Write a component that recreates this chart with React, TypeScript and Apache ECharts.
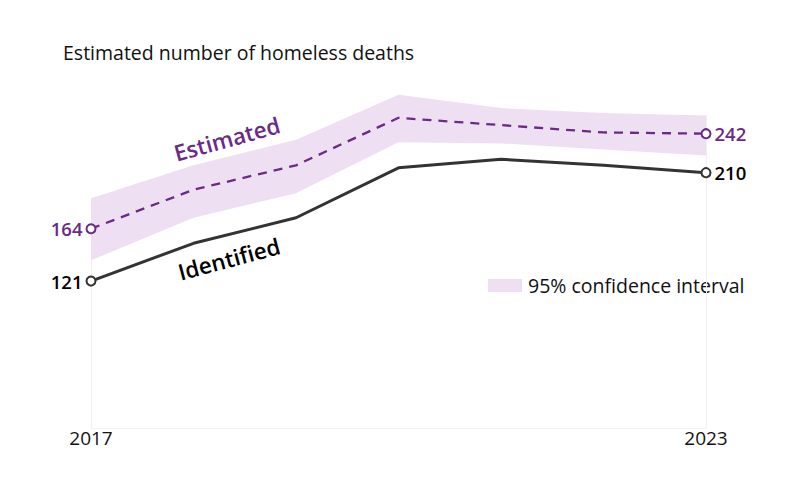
import React, { useEffect, useRef } from "react";
import * as echarts from "echarts";

const years = ["2017", "2018", "2019", "2020", "2021", "2022", "2023"];
const identified = [121, 152, 173, 214, 221, 216, 210];
const estimated = [164, 196, 216, 255, 249, 243, 242];
const ciLower = [138, 173, 193, 235, 234, 229, 224];
const ciUpper = [189, 216, 237, 274, 263, 259, 257];

const PURPLE = "#6b2a86";
const BAND = "#efdff3";
const DARK = "#333333";
const GRIDC = "#f3eff5";
const FONT = "'Open Sans', 'Noto Sans', sans-serif";

function endpointData(values: number[], color: string) {
  const last = values.length - 1;
  return values.map((v, i) => {
    if (i === 0 || i === last) {
      return {
        value: v,
        symbol: "circle",
        label: {
          show: true,
          position: i === 0 ? "left" : "right",
          distance: 3,
          color,
          fontSize: 18.5,
          fontWeight: 600,
          fontFamily: FONT,
        },
      };
    }
    return { value: v, symbol: "none" };
  });
}

export default function App() {
  const ref = useRef<HTMLDivElement>(null);
  useEffect(() => {
    if (!ref.current) return;
    const chart = echarts.init(ref.current, null, { renderer: "svg" });
    const bandDiff = ciUpper.map((u, i) => u - ciLower[i]);
    const last = years.length - 1;
    chart.setOption({
      animation: false,
      title: {
        text: "Estimated number of homeless deaths",
        left: 63,
        top: 42,
        padding: 0,
        textStyle: { fontSize: 19.5, fontWeight: "normal", color: "#111", fontFamily: FONT },
      },
      grid: { left: 91, right: 101, top: 63, bottom: 64.5 },
      xAxis: {
        type: "category",
        data: years,
        boundaryGap: false,
        axisLine: { show: true, lineStyle: { color: GRIDC, width: 1 } },
        axisTick: { show: false },
        axisLabel: {
          interval: (i: number) => i === 0 || i === last,
          color: "#111",
          fontSize: 19,
          fontFamily: FONT,
          margin: 0,
        },
        splitLine: { show: false },
      },
      yAxis: {
        type: "value",
        min: 0,
        max: 300,
        show: false,
        splitLine: { show: false },
      },
      series: [
        {
          name: "lower",
          type: "line",
          stack: "ci",
          data: ciLower,
          symbol: "none",
          lineStyle: { opacity: 0 },
          silent: true,
        },
        {
          name: "95% confidence interval",
          type: "line",
          stack: "ci",
          data: bandDiff,
          symbol: "none",
          lineStyle: { opacity: 0 },
          areaStyle: { color: BAND, opacity: 1 },
          silent: true,
        },
        {
          name: "Estimated",
          type: "line",
          data: endpointData(estimated, PURPLE),
          symbolSize: 9,
          itemStyle: { color: "#fff", borderColor: PURPLE, borderWidth: 2 },
          lineStyle: { color: PURPLE, width: 2.3, type: [9, 7] },
          z: 3,
        },
        {
          name: "Identified",
          type: "line",
          data: endpointData(identified, "#000"),
          symbolSize: 9,
          itemStyle: { color: "#fff", borderColor: DARK, borderWidth: 2 },
          lineStyle: { color: DARK, width: 3 },
          z: 4,
          markLine: {
            silent: true,
            symbol: "none",
            label: { show: false },
            lineStyle: { color: GRIDC, width: 1, type: "solid" },
            z: 1,
            data: [
              [
                { coord: [years[0], 0] },
                { coord: [years[0], ciUpper[0]] },
              ],
              [
                { coord: [years[last], 0] },
                { coord: [years[last], ciUpper[last]] },
              ],
            ],
          },
        },
      ],
      graphic: [
        {
          type: "text",
          x: 227,
          y: 139,
          rotation: (15.5 * Math.PI) / 180,
          style: {
            text: "Estimated",
            fill: PURPLE,
            fontSize: 22.5,
            fontWeight: 600,
            fontFamily: FONT,
            align: "center",
            verticalAlign: "middle",
          },
        },
        {
          type: "text",
          x: 229,
          y: 259,
          rotation: (15 * Math.PI) / 180,
          style: {
            text: "Identified",
            fill: "#000",
            fontSize: 22.5,
            fontWeight: 600,
            fontFamily: FONT,
            align: "center",
            verticalAlign: "middle",
          },
        },
        {
          type: "rect",
          shape: { x: 488, y: 279, width: 34, height: 13 },
          style: { fill: BAND },
        },
        {
          type: "text",
          x: 528,
          y: 285.5,
          style: {
            text: "95% confidence interval",
            fill: "#111",
            fontSize: 19.5,
            fontFamily: FONT,
            verticalAlign: "middle",
          },
        },
      ],
    });
    return () => chart.dispose();
  }, []);
  return (
    <div
      ref={ref}
      style={{ position: "absolute", left: 0, top: 0, width: 807, height: 493 }}
    />
  );
}
